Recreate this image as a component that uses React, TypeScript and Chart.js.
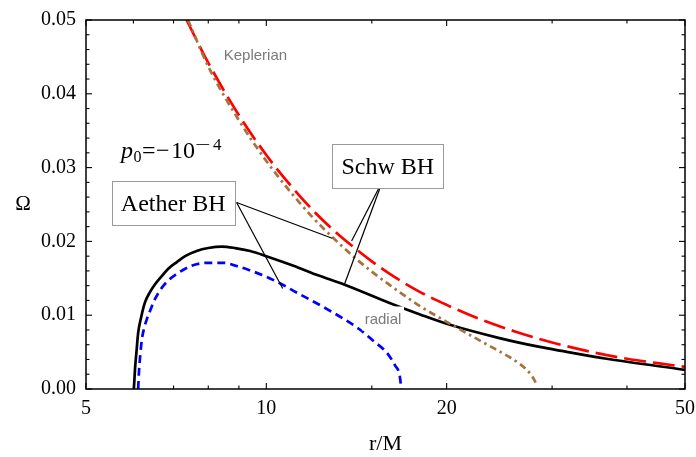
import React, { useEffect, useRef } from "react";
import { Chart, registerables } from "chart.js";

Chart.register(...registerables);

// ---- data ----
const xTicks = [5, 10, 20, 50];
const xMinorTicks = [6, 7, 8, 9, 15, 30, 40];
const yTicks = [0, 0.01, 0.02, 0.03, 0.04, 0.05];
const yMinorTicks = [
  0.002, 0.004, 0.006, 0.008, 0.012, 0.014, 0.016, 0.018, 0.022, 0.024, 0.026, 0.028,
  0.032, 0.034, 0.036, 0.038, 0.042, 0.044, 0.046, 0.048,
];

// Aether BH, radial (black solid)
const aetherRadialR = [6.01, 6.025, 6.04, 6.07, 6.11, 6.18, 6.27, 6.39, 6.52, 6.69, 6.86, 7.09, 7.32, 7.65, 8.0, 8.43, 8.87, 9.4, 10.0, 11.1, 12.2, 13.45, 16.3, 18.06, 20.26, 24.5, 28.6, 30.9, 37.0, 50];
const aetherRadialOmega = [0, 0.0015, 0.003, 0.005, 0.0076, 0.0097, 0.0117, 0.0131, 0.0142, 0.0153, 0.0163, 0.0172, 0.018, 0.0187, 0.0191, 0.0193, 0.0191, 0.0187, 0.018, 0.0167, 0.0154, 0.0142, 0.01145, 0.0101, 0.0087, 0.0069, 0.0057, 0.0052, 0.0041, 0.0026];

// Schw BH, radial (blue dashed)
const schwRadialR = [6.11, 6.13, 6.16, 6.2, 6.25, 6.32, 6.39, 6.52, 6.69, 6.88, 7.06, 7.5, 8.0, 8.5, 8.89, 9.45, 10.0, 10.55, 11.1, 12.65, 14.3, 15.1, 15.9, 16.4, 16.7, 16.8];
const schwRadialOmega = [0, 0.0024, 0.0046, 0.0068, 0.0082, 0.0095, 0.0105, 0.0122, 0.0137, 0.0148, 0.0155, 0.0167, 0.0171, 0.0171, 0.0167, 0.016, 0.0152, 0.0143, 0.0133, 0.0108, 0.0081, 0.0065, 0.0049, 0.0032, 0.0018, 0];

// Schw BH, Keplerian (red long dash)
const schwKeplerR = [7.36, 8, 9, 10, 11, 12, 13, 14, 15, 16, 18, 20, 23, 26, 30, 35, 40, 45, 50];
const schwKeplerOmega = [0.05, 0.0442, 0.0371, 0.0317, 0.0275, 0.0241, 0.0214, 0.0192, 0.0173, 0.0157, 0.0132, 0.0114, 0.0093, 0.0078, 0.0063, 0.005, 0.0041, 0.0035, 0.003];

// Aether BH, Keplerian (brown dot-dash)
const aetherKeplerR = [7.4, 8, 9, 10, 11, 12, 13, 14, 15, 16, 18, 20, 22, 24, 25.5, 26.5, 27.3, 27.8, 28.2];
const aetherKeplerOmega = [0.05, 0.0437, 0.0364, 0.0309, 0.0266, 0.0231, 0.0203, 0.0179, 0.0159, 0.0142, 0.0113, 0.0091, 0.0072, 0.0055, 0.0043, 0.0034, 0.0025, 0.0017, 0.0008];

const SERIF = "'Liberation Serif', 'Times New Roman', serif";
const SANS = "'Liberation Sans', Arial, sans-serif";

const toPoints = (xs: number[], ys: number[]) => xs.map((x, i) => ({ x, y: ys[i] }));

const overlayPlugin = {
  id: "overlay",
  afterDatasetsDraw(chart: any) {
    const { ctx, chartArea: a, scales } = chart;
    const xs = scales.x;
    const ys = scales.y;
    const px = (r: number) => xs.getPixelForValue(r);
    const py = (o: number) => ys.getPixelForValue(o);
    ctx.save();

    // "radial" label with white background
    {
      const x = px(15.66), y = py(0.00942);
      ctx.fillStyle = "#fff";
      ctx.fillRect(x - 21, y - 13, 42, 24);
      ctx.font = `15px ${SANS}`;
      ctx.fillStyle = "#7a7a7a";
      ctx.textAlign = "center";
      ctx.textBaseline = "middle";
      ctx.fillText("radial", x, y);
    }
    // "Keplerian" label
    {
      ctx.font = `15px ${SANS}`;
      ctx.fillStyle = "#7a7a7a";
      ctx.textAlign = "center";
      ctx.textBaseline = "middle";
      ctx.fillText("Keplerian", px(9.59), py(0.04515));
    }

    // callout lines
    ctx.strokeStyle = "#000";
    ctx.lineWidth = 1.2;
    const line = (r1: number, o1: number, r2: number, o2: number) => {
      ctx.beginPath();
      ctx.moveTo(px(r1), py(o1));
      ctx.lineTo(px(r2), py(o2));
      ctx.stroke();
    };
    line(8.92, 0.02527, 12.88, 0.02042);
    line(8.92, 0.02527, 10.65, 0.01363);
    line(15.64, 0.02821, 13.88, 0.02005);
    line(15.64, 0.02821, 13.5, 0.01417);

    // boxed labels
    const box = (label: string, r: number, o: number, w: number, h: number) => {
      const cx = px(r), cy = py(o);
      ctx.fillStyle = "#fff";
      ctx.fillRect(cx - w / 2, cy - h / 2, w, h);
      ctx.strokeStyle = "#9a9a9a";
      ctx.lineWidth = 1;
      ctx.strokeRect(Math.round(cx - w / 2) + 0.5, Math.round(cy - h / 2) + 0.5, w, h);
      ctx.fillStyle = "#000";
      ctx.font = `24px ${SERIF}`;
      ctx.textAlign = "center";
      ctx.textBaseline = "alphabetic";
      ctx.fillText(label, cx, cy + 8);
    };
    box("Aether BH", 6.99, 0.02518, 123, 44);
    box("Schw BH", 15.95, 0.03018, 111, 44);

    // p0 = -10^-4
    {
      const x0 = px(5.72), y0 = py(0.03125);
      ctx.fillStyle = "#000";
      ctx.textAlign = "left";
      ctx.textBaseline = "alphabetic";
      ctx.font = `italic 24px ${SERIF}`;
      ctx.fillText("p", x0, y0);
      ctx.font = `16px ${SERIF}`;
      ctx.fillText("0", x0 + 12.5, y0 + 4);
      ctx.font = `24px ${SERIF}`;
      ctx.fillText("=", x0 + 21, y0);
      ctx.fillText("\u2212", x0 + 35, y0);
      ctx.fillText("10", x0 + 50, y0);
      ctx.font = `17px ${SERIF}`;
      ctx.save();
      ctx.translate(x0 + 74, y0 - 8);
      ctx.scale(1.6, 1);
      ctx.fillText("\u2212", 0, 0);
      ctx.restore();
      ctx.fillText("4", x0 + 92, y0 - 8);
    }

    // Omega axis label
    ctx.font = `21px ${SERIF}`;
    ctx.fillStyle = "#000";
    ctx.textAlign = "center";
    ctx.textBaseline = "middle";
    ctx.fillText("\u03a9", 23, (a.top + a.bottom) / 2);

    // frame
    ctx.strokeStyle = "#000";
    ctx.lineWidth = 1.5;
    ctx.strokeRect(a.left, a.top, a.right - a.left, a.bottom - a.top);

    // ticks (inside, all four sides)
    ctx.lineWidth = 1.1;
    const tick = (x1: number, y1: number, x2: number, y2: number) => {
      ctx.beginPath();
      ctx.moveTo(x1, y1);
      ctx.lineTo(x2, y2);
      ctx.stroke();
    };
    const MAJ = 6, MIN = 3.5;
    xTicks.forEach((v) => {
      const x = px(v);
      tick(x, a.bottom, x, a.bottom - MAJ);
      tick(x, a.top, x, a.top + MAJ);
    });
    xMinorTicks.forEach((v) => {
      const x = px(v);
      tick(x, a.bottom, x, a.bottom - MIN);
      tick(x, a.top, x, a.top + MIN);
    });
    yTicks.forEach((v) => {
      const y = py(v);
      tick(a.left, y, a.left + MAJ, y);
      tick(a.right, y, a.right - MAJ, y);
    });
    yMinorTicks.forEach((v) => {
      const y = py(v);
      tick(a.left, y, a.left + MIN, y);
      tick(a.right, y, a.right - MIN, y);
    });

    ctx.restore();
  },
};

export default function App() {
  const canvasRef = useRef<HTMLCanvasElement | null>(null);

  useEffect(() => {
    const canvas = canvasRef.current;
    if (!canvas) return;
    const common = {
      pointRadius: 0,
      pointHoverRadius: 0,
      fill: false,
      cubicInterpolationMode: "monotone" as const,
      borderWidth: 2.7,
    };
    const chart = new Chart(canvas, {
      type: "line",
      data: {
        datasets: [
          {
            ...common,
            label: "Aether BH Keplerian",
            data: toPoints(aetherKeplerR, aetherKeplerOmega),
            borderColor: "#a5733d",
            borderDash: [7, 4, 2.5, 4],
          },
          {
            ...common,
            label: "Schw BH Keplerian",
            data: toPoints(schwKeplerR, schwKeplerOmega),
            borderColor: "#ff0000",
            borderDash: [22, 7],
          },
          {
            ...common,
            label: "Schw BH radial",
            data: toPoints(schwRadialR, schwRadialOmega),
            borderColor: "#0000ff",
            borderDash: [8, 5],
          },
          {
            ...common,
            label: "Aether BH radial",
            data: toPoints(aetherRadialR, aetherRadialOmega),
            borderColor: "#000000",
          },
        ],
      },
      options: {
        responsive: false,
        animation: false,
        layout: { padding: { top: 20, right: 11, left: 0, bottom: 0 } },
        plugins: {
          legend: { display: false },
          tooltip: { enabled: false },
        },
        scales: {
          x: {
            type: "logarithmic",
            min: 5,
            max: 50,
            position: "bottom",
            afterBuildTicks: (s: any) => {
              s.ticks = xTicks.map((v) => ({ value: v }));
            },
            afterFit: (s: any) => {
              s.height = 68;
              s.paddingLeft = 0;
              s.paddingRight = 0;
            },
            grid: { display: false, drawTicks: false },
            border: { display: false },
            ticks: {
              autoSkip: false,
              maxRotation: 0,
              padding: 8,
              color: "#000",
              font: { family: SERIF, size: 20 },
              callback: (v: any) => String(v),
            },
            title: {
              display: true,
              text: "r/M",
              color: "#000",
              font: { family: SERIF, size: 22, lineHeight: 1 },
              padding: { top: 0, bottom: 2 },
            },
          },
          y: {
            type: "linear",
            min: 0,
            max: 0.05,
            afterBuildTicks: (s: any) => {
              s.ticks = yTicks.map((v) => ({ value: v }));
            },
            afterFit: (s: any) => {
              s.width = 86;
              s.paddingTop = 0;
              s.paddingBottom = 0;
            },
            grid: { display: false, drawTicks: false },
            border: { display: false },
            ticks: {
              autoSkip: false,
              padding: 10,
              color: "#000",
              font: { family: SERIF, size: 20 },
              callback: (v: any) => Number(v).toFixed(2),
            },
          },
        },
      } as any,
      plugins: [overlayPlugin],
    });
    return () => chart.destroy();
  }, []);

  return (
    <div style={{ position: "fixed", left: 0, top: 0, width: 696, height: 457, background: "#fff" }}>
      <canvas ref={canvasRef} width={696} height={457} style={{ display: "block", width: 696, height: 457 }} />
    </div>
  );
}
